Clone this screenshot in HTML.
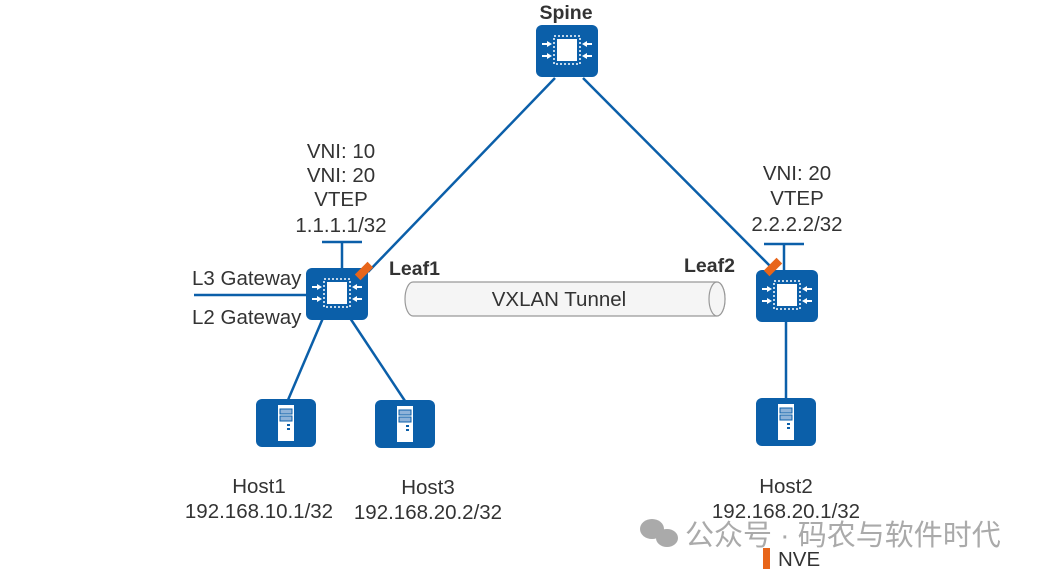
<!DOCTYPE html>
<html><head><meta charset="utf-8"><style>
body{margin:0;background:#fff}
svg{display:block}
text{font-family:"Liberation Sans","Noto Sans CJK SC",sans-serif;fill:#333}
</style></head><body>
<svg width="1040" height="576" viewBox="0 0 1040 576" xmlns="http://www.w3.org/2000/svg">
<defs>
<g id="sw">
<rect x="0" y="0" width="62" height="52" rx="6" fill="#0b5fa9"/>
<rect x="21" y="14" width="20" height="22" fill="#fff"/>
<rect x="18" y="11" width="26" height="28" fill="none" stroke="#fff" stroke-width="1.5" stroke-dasharray="2 2"/>
<g fill="#fff">
<path d="M16 19 l-5 -3 v2 h-5 v2 h5 v2z"/><path d="M16 31 l-5 -3 v2 h-5 v2 h5 v2z"/>
<path d="M46 19 l5 -3 v2 h5 v2 h-5 v2z"/><path d="M46 31 l5 -3 v2 h5 v2 h-5 v2z"/>
</g>
</g>
<g id="host">
<rect x="0" y="0" width="60" height="48" rx="6" fill="#0b5fa9"/>
<rect x="22" y="6" width="16" height="36" fill="#fff"/>
<rect x="24" y="10" width="12" height="5" fill="#8fb3d9" stroke="#0b5fa9" stroke-width="1"/>
<rect x="24" y="17" width="12" height="5" fill="#8fb3d9" stroke="#0b5fa9" stroke-width="1"/>
<rect x="31" y="25" width="3" height="2" fill="#0b5fa9"/><rect x="31" y="29" width="3" height="2" fill="#0b5fa9"/>
</g>
</defs>
<g stroke="#0b5fa9" stroke-width="2.5" fill="none">
<line x1="555" y1="78" x2="368" y2="272"/>
<line x1="583" y1="78" x2="770" y2="266"/>
<line x1="323" y1="318" x2="288" y2="400"/>
<line x1="350" y1="318" x2="405" y2="401"/>
<line x1="786" y1="320" x2="786" y2="399"/>
<line x1="194" y1="295" x2="307" y2="295"/>
<line x1="342" y1="242" x2="342" y2="269"/>
<line x1="322" y1="242" x2="362" y2="242"/>
<line x1="784" y1="244" x2="784" y2="271"/>
<line x1="764" y1="244" x2="804" y2="244"/>
</g>
<use href="#sw" x="536" y="25"/>
<use href="#sw" x="306" y="268"/>
<use href="#sw" x="756" y="270"/>
<use href="#host" x="256" y="399"/>
<use href="#host" x="375" y="400"/>
<use href="#host" x="756" y="398"/>
<rect x="355" y="267" width="18" height="8" fill="#e8651a" transform="rotate(-45 364 271)"/>
<rect x="764" y="263" width="18" height="8" fill="#e8651a" transform="rotate(-45 773 267)"/>
<path d="M413 282 H717 A8 17 0 0 1 717 316 H413 A8 17 0 0 1 413 282Z" fill="#f5f5f5" stroke="#999" stroke-width="1.2"/>
<ellipse cx="717" cy="299" rx="8" ry="17" fill="#f5f5f5" stroke="#999" stroke-width="1.2"/>
<text x="559" y="306" font-size="20.5" text-anchor="middle">VXLAN Tunnel</text>
<text x="566" y="19" font-size="19.5" font-weight="bold" text-anchor="middle">Spine</text>
<text x="389" y="275" font-size="19.5" font-weight="bold">Leaf1</text>
<text x="684" y="272" font-size="19.5" font-weight="bold">Leaf2</text>
<g font-size="20.5" text-anchor="middle">
<text x="341" y="158">VNI: 10</text>
<text x="341" y="182">VNI: 20</text>
<text x="341" y="206">VTEP</text>
<text x="341" y="232">1.1.1.1/32</text>
<text x="797" y="180">VNI: 20</text>
<text x="797" y="205">VTEP</text>
<text x="797" y="231">2.2.2.2/32</text>
<text x="259" y="493">Host1</text>
<text x="259" y="518">192.168.10.1/32</text>
<text x="428" y="494">Host3</text>
<text x="428" y="519">192.168.20.2/32</text>
<text x="786" y="493">Host2</text>
<text x="786" y="518">192.168.20.1/32</text>
</g>
<text x="192" y="285" font-size="20.5">L3 Gateway</text>
<text x="192" y="324" font-size="20.5">L2 Gateway</text>
<g fill="#aaa">
<ellipse cx="652" cy="529" rx="12" ry="10"/><ellipse cx="667" cy="538" rx="11" ry="9"/>
</g>
<text x="685" y="545" font-size="29" style="fill:#aaa">公众号 · 码农与软件时代</text>
<rect x="763" y="548" width="7" height="21" fill="#e8651a"/>
<text x="778" y="566" font-size="20.5">NVE</text>
</svg>
</body></html>
